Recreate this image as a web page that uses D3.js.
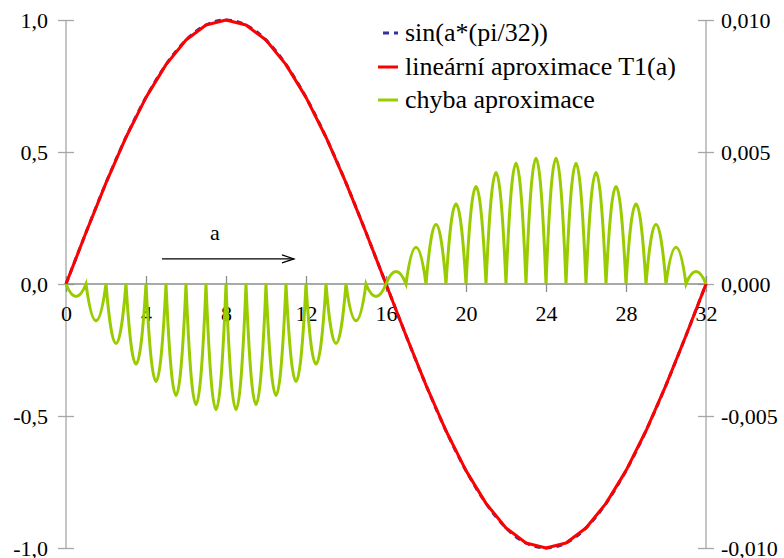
<!DOCTYPE html>
<html>
<head>
<meta charset="utf-8">
<script src="https://cdn.jsdelivr.net/npm/d3@7"></script>
<style>
  html, body { margin: 0; padding: 0; background: #ffffff; }
  svg text { font-family: "Liberation Serif", "Times New Roman", serif; font-size: 22px; fill: #000; }
  svg text.legend-label { font-size: 26px; }
</style>
</head>
<body>
<svg id="chart" width="784" height="558"></svg>
<script>
// Sample positions a = 0 … 32
const aValues = d3.range(0, 33);

// Sine values at the integer nodes
const sinValues = [
  0, 0.195, 0.383, 0.556, 0.707, 0.831, 0.924, 0.981, 1.000,
  0.981, 0.924, 0.831, 0.707, 0.556, 0.383, 0.195, 0,
  -0.195, -0.383, -0.556, -0.707, -0.831, -0.924, -0.981, -1.000,
  -0.981, -0.924, -0.831, -0.707, -0.556, -0.383, -0.195, 0
];

// Linear approximation T1(a): straight segments between the same nodes
const t1Values = [
  0, 0.195, 0.383, 0.556, 0.707, 0.831, 0.924, 0.981, 1.000,
  0.981, 0.924, 0.831, 0.707, 0.556, 0.383, 0.195, 0,
  -0.195, -0.383, -0.556, -0.707, -0.831, -0.924, -0.981, -1.000,
  -0.981, -0.924, -0.831, -0.707, -0.556, -0.383, -0.195, 0
];

// Approximation error: extreme value of each arch between nodes i and i+1
const errorPeaks = [
  -0.00047, -0.00139, -0.00225, -0.00303, -0.00369, -0.00422, -0.00457, -0.00476,
  -0.00476, -0.00457, -0.00422, -0.00369, -0.00303, -0.00225, -0.00139, -0.00047,
  0.00047, 0.00139, 0.00225, 0.00303, 0.00369, 0.00422, 0.00457, 0.00476,
  0.00476, 0.00457, 0.00422, 0.00369, 0.00303, 0.00225, 0.00139, 0.00047
];

// Axis ticks and labels
const xTicks = [0, 4, 8, 12, 16, 20, 24, 28, 32];
const leftTicks = [1, 0.5, 0, -0.5, -1];
const leftLabels = ["1,0", "0,5", "0,0", "-0,5", "-1,0"];
const rightTicks = [0.01, 0.005, 0, -0.005, -0.01];
const rightLabels = ["0,010", "0,005", "0,000", "-0,005", "-0,010"];

const legendItems = [
  { label: "sin(a*(pi/32))", color: "#333399", dash: "6,5" },
  { label: "lineární aproximace T1(a)", color: "#ff0000", dash: null },
  { label: "chyba aproximace", color: "#99cc00", dash: null }
];

const svg = d3.select("#chart");
const plotLeft = 66, plotRight = 706, plotTop = 20, plotBottom = 548;

const x = d3.scaleLinear().domain([0, 32]).range([plotLeft, plotRight]);
const yL = d3.scaleLinear().domain([-1, 1]).range([plotBottom, plotTop]);
const yR = d3.scaleLinear().domain([-0.01, 0.01]).range([plotBottom, plotTop]);

const axisGray = "#a6a6a6";

// Left value axis
const gL = svg.append("g").attr("transform", `translate(${plotLeft},0)`)
  .call(d3.axisLeft(yL).tickValues(leftTicks).tickFormat((d, i) => leftLabels[i]));
gL.select(".domain").attr("stroke", axisGray).attr("stroke-width", 1.3).attr("d", `M0,${plotTop}V${plotBottom}`);
gL.selectAll(".tick line").attr("stroke", axisGray).attr("stroke-width", 1.3).attr("x1", -8).attr("x2", 8);
gL.selectAll(".tick text").attr("x", -18).attr("dy", "0.33em");

// Right axis for the error
const gR = svg.append("g").attr("transform", `translate(${plotRight},0)`)
  .call(d3.axisRight(yR).tickValues(rightTicks).tickFormat((d, i) => rightLabels[i]));
gR.select(".domain").attr("stroke", axisGray).attr("stroke-width", 1.3).attr("d", `M0,${plotTop}V${plotBottom}`);
gR.selectAll(".tick line").attr("stroke", axisGray).attr("stroke-width", 1.3).attr("x1", -8).attr("x2", 8);
gR.selectAll(".tick text").attr("x", 15).attr("dy", "0.33em");

// Horizontal category axis through zero
const gX = svg.append("g").attr("transform", `translate(0,${yL(0)})`)
  .call(d3.axisBottom(x).tickValues(xTicks).tickFormat(d3.format("d")));
gX.select(".domain").attr("stroke", "#8c8c8c").attr("stroke-width", 1.3).attr("d", `M${plotLeft},0H${plotRight}`);
gX.selectAll(".tick line").attr("stroke", "#8c8c8c").attr("stroke-width", 1.3).attr("y1", -8).attr("y2", 8);
gX.selectAll(".tick text").attr("y", 29).attr("dy", "0.35em");

svg.selectAll("g").attr("font-family", null).attr("font-size", null);
svg.selectAll("g text").attr("fill", "#000");

// Sine (smooth, dashed) and the linear approximation on top
const sinLine = d3.line().x((d, i) => x(aValues[i])).y(d => yL(d)).curve(d3.curveNatural);
svg.append("path").attr("d", sinLine(sinValues))
  .attr("fill", "none").attr("stroke", "#333399").attr("stroke-width", 3)
  .attr("stroke-dasharray", "6,5");

const t1Line = d3.line().x((d, i) => x(aValues[i])).y(d => yL(d));
svg.append("path").attr("d", t1Line(t1Values))
  .attr("fill", "none").attr("stroke", "#ff0000").attr("stroke-width", 3)
  .attr("stroke-linejoin", "round");

// Error curve: one parabolic arch per interval, drawn on the right scale
const errPath = d3.path();
errPath.moveTo(x(aValues[0]), yR(0));
errorPeaks.forEach((p, i) => {
  // a quadratic Bezier with its control point at twice the peak passes through the peak
  errPath.quadraticCurveTo(x(aValues[i] + 0.5), yR(2 * p), x(aValues[i + 1]), yR(0));
});
svg.append("path").attr("d", errPath.toString())
  .attr("fill", "none").attr("stroke", "#99cc00").attr("stroke-width", 3)
  .attr("stroke-linejoin", "miter");

// Arrow showing the direction of a
const arrowY = yL(0.095);
const ax0 = x(4.8), ax1 = x(11.4);
svg.append("line").attr("x1", ax0).attr("x2", ax1).attr("y1", arrowY).attr("y2", arrowY)
  .attr("stroke", "#000").attr("stroke-width", 1.2);
svg.append("path").attr("d", `M${ax1 - 12},${arrowY - 4}L${ax1},${arrowY}L${ax1 - 12},${arrowY + 4}`)
  .attr("fill", "none").attr("stroke", "#000").attr("stroke-width", 1.2);
svg.append("text").attr("x", x(7.45)).attr("y", arrowY - 19).attr("text-anchor", "middle").text("a");

// Legend
const legend = svg.append("g");
const rowBase = [41, 75, 108];
legendItems.forEach((item, i) => {
  const cy = rowBase[i] - 8;
  legend.append("line").attr("x1", item.dash ? 383 : 378).attr("x2", 398)
    .attr("y1", cy).attr("y2", cy)
    .attr("stroke", item.color).attr("stroke-width", 3)
    .attr("stroke-dasharray", item.dash);
  legend.append("text").attr("class", "legend-label")
    .attr("x", 405).attr("y", rowBase[i]).text(item.label);
});
</script>
</body>
</html>
